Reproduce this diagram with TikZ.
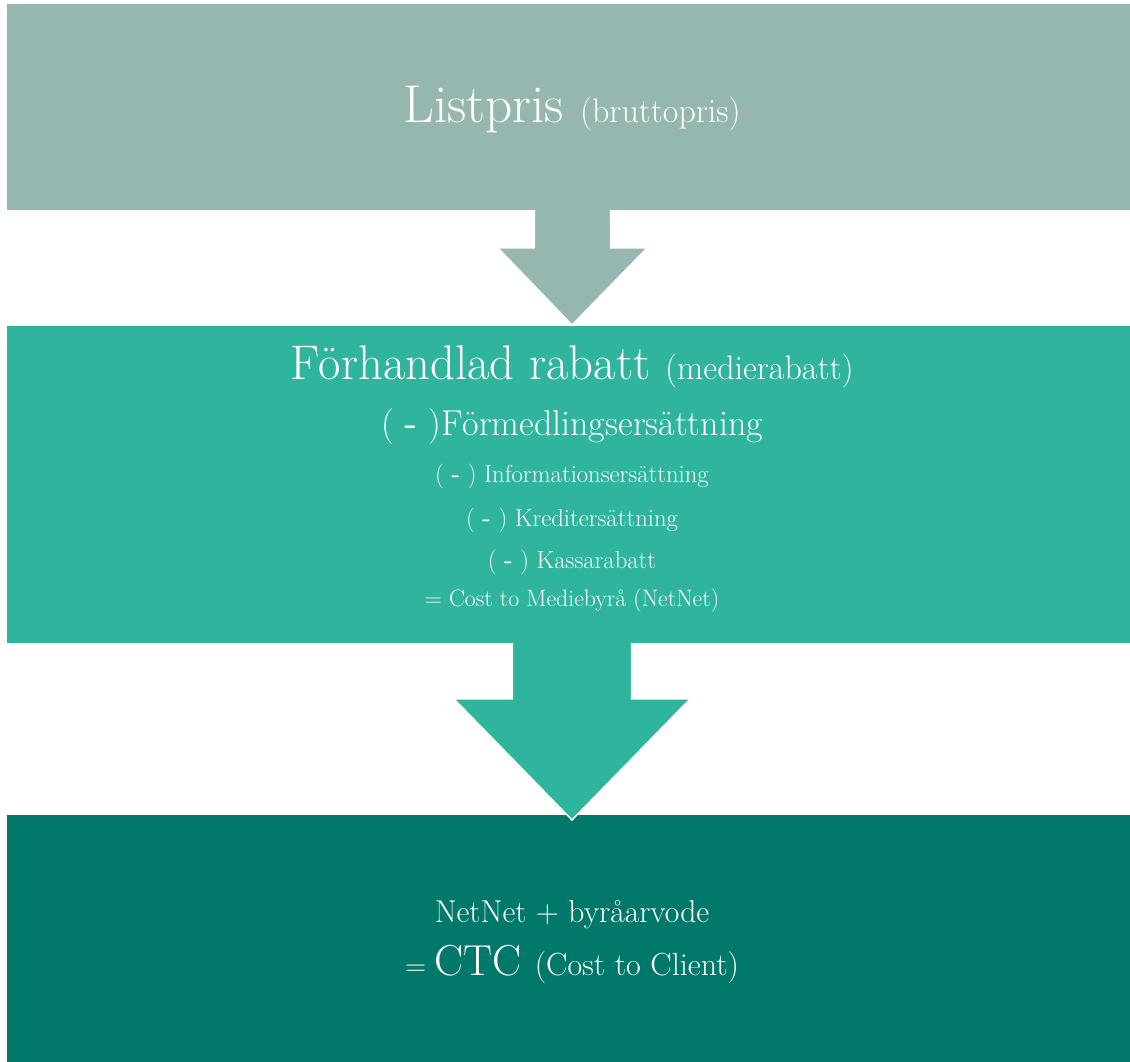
\documentclass[tikz,border=0pt]{standalone}
\usepackage{fontspec}
\usetikzlibrary{calc}

\definecolor{listgreen}{RGB}{150,183,175}
\definecolor{rabattgreen}{RGB}{47,180,158}
\definecolor{ctcgreen}{RGB}{0,121,107}

\tikzset{every picture/.style={line width=0.75pt}}
\tikzset{
  txt/.style={anchor=base, inner sep=0pt, text=white},
  arrowline/.style={draw=white, line width=1.1pt, line join=miter}
}

\newcommand{\fs}[1]{\fontsize{#1}{#1}\selectfont}
\newcommand{\minus}{{\sffamily\bfseries -}}
% block arrow: start, tip, shaft half width, head half width, neck depth, colour
\newcommand{\blockarrow}[6]{%
  \fill[#6] ($(#1)+(-#3,0)$) -- ($(#1)+(-#3,#5)$) -- ($(#1)+(-#4,#5)$) -- (#2) -- ($(#1)+(#4,#5)$) -- ($(#1)+(#3,#5)$) -- ($(#1)+(#3,0)$) -- cycle ;
  \draw[arrowline] ($(#1)+(-#3,0)$) -- ($(#1)+(-#3,#5)$) -- ($(#1)+(-#4,#5)$) -- (#2) -- ($(#1)+(#4,#5)$) -- ($(#1)+(#3,#5)$) -- ($(#1)+(#3,0)$) ;
}

\begin{document}
\begin{tikzpicture}[x=0.75pt,y=0.75pt,yscale=-1,xscale=1]
\path[use as bounding box] (0,0) rectangle (1130,1062);

%Boxes
\fill[listgreen] (6.5,4.5) rectangle (1130,210);
\fill[rabattgreen] (6.5,326) rectangle (1130,643);
\fill[ctcgreen] (6.5,815) rectangle (1130,1062);

%Arrows
\coordinate (arrowA) at (572.5,210);
\coordinate (tipA) at (572,325);
\blockarrow{arrowA}{tipA}{38}{74.5}{38}{listgreen}
\coordinate (arrowB) at (572,643);
\coordinate (tipB) at (572,820);
\blockarrow{arrowB}{tipB}{59.5}{118}{56}{rabattgreen}

% Text Node
\node[txt] (listpris) at (572,123) {\fs{40}Listpris \fs{25.5}(bruttopris)};
% Text Node
\node[txt] (rabatt) at (572,379) {\fs{36.5}Förhandlad rabatt \fs{25.5}(medierabatt)};
% Text Node
\node[txt] (formedling) at (572,435) {\fs{27}( \minus\ )Förmedlingsersättning};
% Text Node
\node[txt] (information) at (572,482) {\fs{18.5}( \minus\ ) Informationsersättning};
% Text Node
\node[txt] (kredit) at (572,526) {\fs{18.5}( \minus\ ) Kreditersättning};
% Text Node
\node[txt] (kassa) at (572,568) {\fs{18.5}( \minus\ ) Kassarabatt};
% Text Node
\node[txt] (netnet) at (572,606) {\fs{17.8}= Cost to Mediebyrå (NetNet)};
% Text Node
\node[txt] (arvode) at (572,922) {\fs{23.7}NetNet + byråarvode};
% Text Node
\node[txt] (ctc) at (572,975) {\fs{22}= \fs{32.5}CTC \fs{24}(Cost to Client)};

\end{tikzpicture}
\end{document}
